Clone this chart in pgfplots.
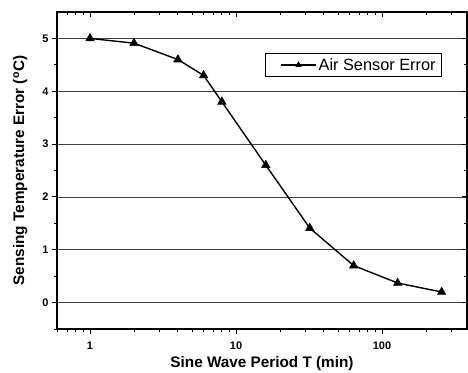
\documentclass[border=0pt]{standalone}
\usepackage{pgfplots}
\pgfplotsset{compat=1.18}
\usepackage{fontspec}
\setmainfont{Liberation Sans}
\begin{document}
\begin{tikzpicture}
\begin{axis}[
  at={(0,0)}, anchor=south west,
  scale only axis, width=410pt, height=317pt,
  xmode=log, xmin=0.594, xmax=382,
  ymin=-0.5, ymax=5.5,
  log basis x=10,
  xtick={1,10,100}, xticklabels={1,10,100},
  minor xtick={0.6,0.7,0.8,0.9,2,3,4,5,6,7,8,9,20,30,40,50,60,70,80,90,200,300},
  ytick={0,1,2,3,4,5},
  minor ytick={-0.5,0.5,1.5,2.5,3.5,4.5},
  tick align=outside,
  xtick pos=bottom, ytick pos=left,
  major tick length=5pt, minor tick length=3pt,
  tick style={black, line width=0.9pt},
  axis line style={line width=1.1pt},
  ymajorgrids, major grid style={black!75, line width=0.6pt},
  ticklabel style={font=\bfseries\fontsize{11}{12}\selectfont},
  xticklabel style={yshift=-4pt},
  /pgf/number format/assume math mode=true,
  xlabel={\bfseries Sine Wave Period T (min)},
  ylabel={\bfseries Sensing Temperature Error (\textsuperscript{o}C)},
  label style={font=\bfseries\fontsize{15.3}{17}\selectfont},
  xlabel style={yshift=0pt},
  ylabel style={yshift=8pt},
  legend style={at={(0.507,0.871)}, anchor=north west, draw=black, line width=0.8pt,
    font=\fontsize{16.3}{18}\selectfont, inner xsep=15pt, inner ysep=3pt},
  legend cell align=left,
  legend image code/.code={
    \draw[#1, mark repeat=2, mark phase=2, mark size=3pt] plot coordinates {(0pt,0pt) (17.5pt,0pt) (35pt,0pt)};
  },
]
\addplot[black, line width=1.4pt, mark=triangle*, mark size=4.8pt, mark options={fill=black, line width=0.6pt}]
coordinates {(1,5.0)(2,4.91)(4,4.6)(6,4.3)(8,3.8)(16,2.6)(32,1.41)(64,0.70)(128,0.37)(256,0.2)};
\addlegendentry{Air Sensor Error\hspace*{-11pt}}
\end{axis}
\begin{axis}[
  at={(0,0)}, anchor=south west,
  scale only axis, width=410pt, height=317pt,
  xmode=log, xmin=0.594, xmax=382,
  ymin=-0.5, ymax=5.5,
  xtick={1,10,100}, xticklabels={},
  minor xtick={0.6,0.7,0.8,0.9,2,3,4,5,6,7,8,9,20,30,40,50,60,70,80,90,200,300},
  ytick={0,1,2,3,4,5}, yticklabels={},
  minor ytick={-0.5,0.5,1.5,2.5,3.5,4.5},
  tick align=inside,
  xtick pos=top, ytick pos=right,
  major tick length=5pt, minor tick length=3pt,
  tick style={black, line width=0.9pt},
  axis line style={line width=1.1pt},
]
\end{axis}
\pgfresetboundingbox
\path (-57pt,-43pt) rectangle (411pt,329pt);
\end{tikzpicture}
\end{document}
